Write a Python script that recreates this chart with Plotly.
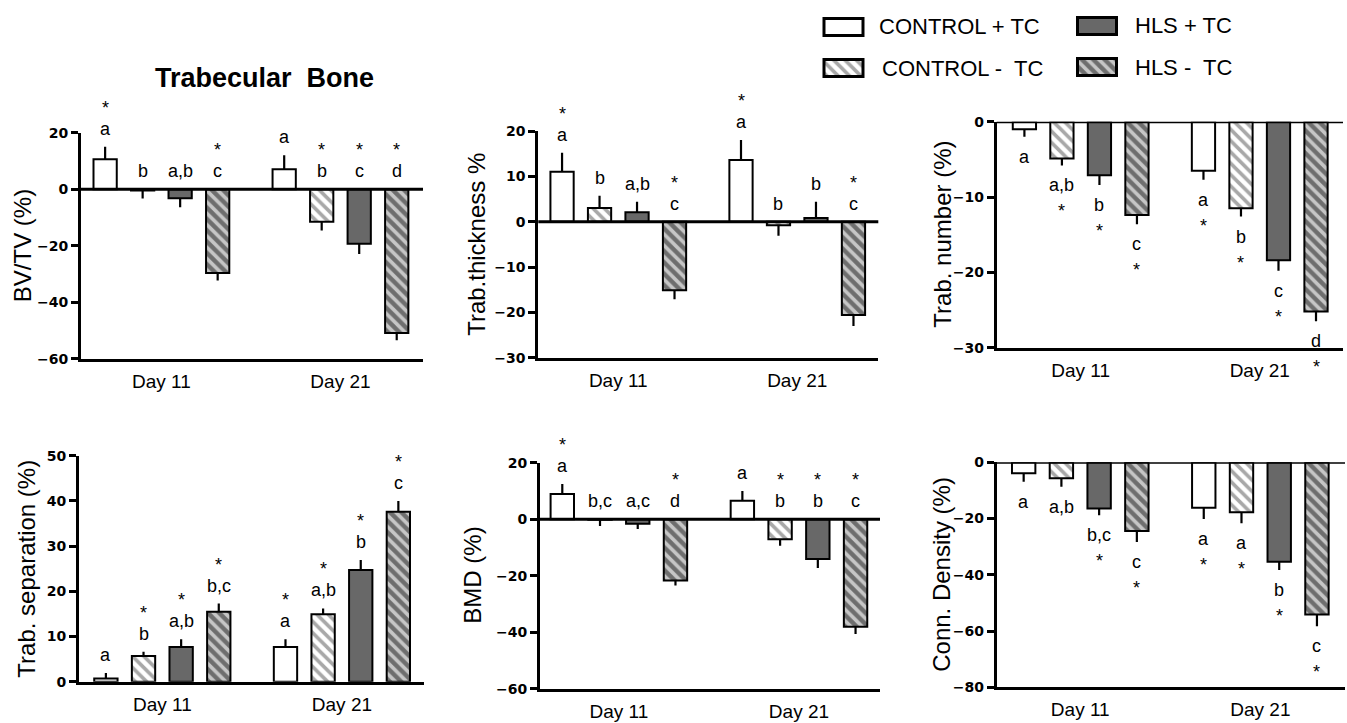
import plotly.graph_objects as go

W, H = 1347, 723

series_names = ["CONTROL + TC", "CONTROL -\u00a0 TC", "HLS + TC", "HLS -\u00a0 TC"]
day_labels = ["Day 11", "Day 21"]

# ---- BV/TV (%) ----
bvtv_day11 = [10.6, -0.5, -3.2, -29.7]
bvtv_err11 = [4.4, 2.8, 3.2, 2.6]
bvtv_day21 = [7.1, -11.5, -19.3, -50.9]
bvtv_err21 = [4.9, 3.1, 3.6, 2.6]
bvtv_let11 = ["a", "b", "a,b", "c"]
bvtv_star11 = [1, 0, 0, 1]
bvtv_let21 = ["a", "b", "c", "d"]
bvtv_star21 = [0, 1, 1, 1]

# ---- Trab. thickness % ----
tbth_day11 = [11.0, 3.0, 2.1, -15.1]
tbth_err11 = [4.2, 2.7, 2.3, 2.0]
tbth_day21 = [13.6, -0.8, 0.8, -20.6]
tbth_err21 = [4.4, 2.3, 3.6, 2.4]
tbth_let11 = ["a", "b", "a,b", "c"]
tbth_star11 = [1, 0, 0, 1]
tbth_let21 = ["a", "b", "b", "c"]
tbth_star21 = [1, 0, 0, 1]

# ---- Trab. number (%) ----
tbn_day11 = [-1.0, -4.9, -7.1, -12.4]
tbn_err11 = [1.0, 0.9, 1.3, 1.2]
tbn_day21 = [-6.5, -11.5, -18.4, -25.2]
tbn_err21 = [1.2, 1.1, 1.4, 1.3]
tbn_let11 = ["a", "a,b", "b", "c"]
tbn_star11 = [0, 1, 1, 1]
tbn_let21 = ["a", "b", "c", "d"]
tbn_star21 = [1, 1, 1, 1]

# ---- Trab. separation (%) ----
tbsp_day11 = [0.7, 5.7, 7.7, 15.5]
tbsp_err11 = [1.2, 0.9, 1.7, 1.8]
tbsp_day21 = [7.7, 14.9, 24.7, 37.6]
tbsp_err21 = [1.7, 1.3, 2.2, 2.4]
tbsp_let11 = ["a", "b", "a,b", "b,c"]
tbsp_star11 = [0, 1, 1, 1]
tbsp_let21 = ["a", "a,b", "b", "c"]
tbsp_star21 = [1, 1, 1, 1]

# ---- BMD (%) ----
bmd_day11 = [8.9, -0.2, -1.6, -21.7]
bmd_err11 = [3.6, 2.2, 1.9, 1.8]
bmd_day21 = [6.5, -7.1, -14.1, -38.1]
bmd_err21 = [3.5, 2.3, 3.2, 2.5]
bmd_let11 = ["a", "b,c", "a,c", "d"]
bmd_star11 = [1, 0, 0, 1]
bmd_let21 = ["a", "b", "b", "c"]
bmd_star21 = [0, 1, 1, 1]

# ---- Conn. Density (%) ----
conn_day11 = [-3.9, -5.7, -16.4, -24.4]
conn_err11 = [3.0, 3.0, 2.4, 3.9]
conn_day21 = [-16.2, -17.8, -35.4, -54.1]
conn_err21 = [4.0, 3.9, 2.9, 4.2]
conn_let11 = ["a", "a,b", "b,c", "c"]
conn_star11 = [0, 0, 1, 1]
conn_let21 = ["a", "a", "b", "c"]
conn_star21 = [1, 1, 1, 1]

panels = [
    dict(title="BV/TV (%)", d11=bvtv_day11, e11=bvtv_err11, d21=bvtv_day21, e21=bvtv_err21,
         l11=bvtv_let11, s11=bvtv_star11, l21=bvtv_let21, s21=bvtv_star21,
         side="above", yr=[-60, 20], dt=20, px=[81, 423], py=[132.7, 358.7],
         xr=[-0.449, 1.461], tx=22.5),
    dict(title="Trab.thickness %", d11=tbth_day11, e11=tbth_err11, d21=tbth_day21, e21=tbth_err21,
         l11=tbth_let11, s11=tbth_star11, l21=tbth_let21, s21=tbth_star21,
         side="above", yr=[-30, 20], dt=10, px=[538.3, 878.3], py=[131, 357.7],
         xr=[-0.447, 1.453], tx=476.5),
    dict(title="Trab. number (%)", d11=tbn_day11, e11=tbn_err11, d21=tbn_day21, e21=tbn_err21,
         l11=tbn_let11, s11=tbn_star11, l21=tbn_let21, s21=tbn_star21,
         side="below", yr=[-30, 0], dt=10, px=[996.7, 1343], py=[121.7, 347.7],
         xr=[-0.469, 1.465], tx=943),
    dict(title="Trab. separation (%)", d11=tbsp_day11, e11=tbsp_err11, d21=tbsp_day21, e21=tbsp_err21,
         l11=tbsp_let11, s11=tbsp_star11, l21=tbsp_let21, s21=tbsp_star21,
         side="above", yr=[0, 50], dt=10, px=[79, 424], py=[455.7, 681.7],
         xr=[-0.464, 1.457], tx=27),
    dict(title="BMD (%)", d11=bmd_day11, e11=bmd_err11, d21=bmd_day21, e21=bmd_err21,
         l11=bmd_let11, s11=bmd_star11, l21=bmd_let21, s21=bmd_star21,
         side="above", yr=[-60, 20], dt=20, px=[540, 880], py=[462.7, 688.7],
         xr=[-0.438, 1.45], tx=473),
    dict(title="Conn. Density (%)", d11=conn_day11, e11=conn_err11, d21=conn_day21, e21=conn_err21,
         l11=conn_let11, s11=conn_star11, l21=conn_let21, s21=conn_star21,
         side="below", yr=[-80, 0], dt=20, px=[996.7, 1345], py=[462.3, 687.3],
         xr=[-0.464, 1.47], tx=942),
]

FONT = "Liberation Sans, Arial, Helvetica, sans-serif"
BARGAP = 0.162
BARGROUPGAP = 0.38
SLOT = (1 - BARGAP) / 4

base_colors = ["white", "white", "#686868", "#6e6e6e"]
patterns = [
    dict(shape=""),
    dict(shape="\\", bgcolor="white", fgcolor="#a8a8a8", size=8, solidity=0.45, fillmode="replace"),
    dict(shape=""),
    dict(shape="\\", bgcolor="#6e6e6e", fgcolor="#c6c6c6", size=8, solidity=0.45, fillmode="replace"),
]


def fx(p):
    return p / W


def fy(p):
    return 1 - p / H


fig = go.Figure()
annotations = []
shapes = []
layout = {}

for k, p in enumerate(panels):
    n = k + 1
    xa = "x" if n == 1 else f"x{n}"
    ya = "y" if n == 1 else f"y{n}"
    xkey = "xaxis" if n == 1 else f"xaxis{n}"
    ykey = "yaxis" if n == 1 else f"yaxis{n}"
    for i in range(4):
        vals = [p["d11"][i], p["d21"][i]]
        errs = [p["e11"][i], p["e21"][i]]
        plus = [e if v >= 0 else 0 for v, e in zip(vals, errs)]
        minus = [e if v < 0 else 0 for v, e in zip(vals, errs)]
        fig.add_trace(go.Bar(
            x=[0, 1], y=vals, name=series_names[i], showlegend=False,
            xaxis=xa, yaxis=ya,
            marker=dict(color=base_colors[i], line=dict(color="black", width=2),
                        pattern=patterns[i]),
            error_y=dict(type="data", symmetric=False, array=plus, arrayminus=minus,
                         color="black", thickness=2.2, width=0),
            hoverinfo="skip",
        ))
        # significance letters and stars
        for g, (v, e) in enumerate(zip(vals, errs)):
            let = p["l11"][i] if g == 0 else p["l21"][i]
            star = p["s11"][i] if g == 0 else p["s21"][i]
            xc = g + (i - 1.5) * SLOT
            if p["side"] == "above":
                anchor = v + e if v > 0 else 0
                ls, ss = 18, 39
            else:
                anchor = v - e if v < 0 else 0
                ls, ss = -20, -46
            annotations.append(dict(x=xc, y=anchor, xref=xa, yref=ya, text=let,
                                    showarrow=False, yanchor="middle", yshift=ls,
                                    font=dict(family=FONT, size=18, color="black")))
            if star:
                annotations.append(dict(x=xc, y=anchor, xref=xa, yref=ya, text="*",
                                        showarrow=False, yanchor="middle", yshift=ss,
                                        font=dict(family=FONT, size=18, color="black")))
    layout[xkey] = dict(domain=[fx(p["px"][0]), fx(p["px"][1])], range=p["xr"],
                        anchor=ya, showline=True, linewidth=3, linecolor="black",
                        tickvals=[0, 1], ticktext=day_labels, ticks="",
                        ticklabelstandoff=3, automargin=False,
                        tickfont=dict(family=FONT, size=19, color="black"),
                        showgrid=False, zeroline=False, fixedrange=True)
    layout[ykey] = dict(domain=[fy(p["py"][1]), fy(p["py"][0])], range=p["yr"],
                        anchor=xa, dtick=p["dt"], showline=True, linewidth=3,
                        linecolor="black", ticks="outside", ticklen=7, tickwidth=3,
                        tickcolor="black", automargin=False,
                        tickfont=dict(family="DejaVu Sans, sans-serif", size=14,
                                      color="black", weight="bold"),
                        showgrid=False, zeroline=False, fixedrange=True)
    # zero reference line
    if p["yr"][0] < 0:
        shapes.append(dict(type="line", xref=f"{xa} domain", yref=ya, x0=0, x1=1,
                           y0=0, y1=0, line=dict(color="black", width=3)))
    # axis title
    annotations.append(dict(x=fx(p["tx"]), y=fy((p["py"][0] + p["py"][1]) / 2),
                            xref="paper", yref="paper", text=p["title"], textangle=-90,
                            showarrow=False, xanchor="center", yanchor="middle",
                            font=dict(family=FONT, size=24, color="black")))

# ---- legend (swatches drawn as single bars on small hidden axes) ----
leg_box_x = [843.5, 843.5, 1097, 1097]
leg_box_y = [27, 68, 26, 67]
leg_text_x = [877, 880, 1133, 1133]
BW, BH = 39, 17
for i in range(4):
    n = 7 + i
    xa, ya = f"x{n}", f"y{n}"
    cx, cy = leg_box_x[i], leg_box_y[i]
    hw, hh = BW / 2 * 1.2, BH / 2 * 1.2
    layout[f"xaxis{n}"] = dict(domain=[fx(cx - hw), fx(cx + hw)], range=[-0.6, 0.6],
                               visible=False, anchor=ya, fixedrange=True, automargin=False)
    layout[f"yaxis{n}"] = dict(domain=[fy(cy + hh), fy(cy - hh)], range=[-0.1, 1.1],
                               visible=False, anchor=xa, fixedrange=True, automargin=False)
    fig.add_trace(go.Bar(x=[0], y=[1], width=[1], xaxis=xa, yaxis=ya, showlegend=False,
                         name=series_names[i], hoverinfo="skip",
                         marker=dict(color=base_colors[i],
                                     line=dict(color="black", width=3),
                                     pattern=patterns[i])))
    annotations.append(dict(x=fx(leg_text_x[i]), y=fy(cy), xref="paper", yref="paper",
                            text=series_names[i], showarrow=False, xanchor="left",
                            yanchor="middle",
                            font=dict(family=FONT, size=22, color="black")))

# ---- title ----
annotations.append(dict(x=fx(264), y=fy(78), xref="paper", yref="paper",
                        text="<b>Trabecular\u00a0 Bone</b>", showarrow=False,
                        xanchor="center", yanchor="middle",
                        font=dict(family=FONT, size=27, color="black")))

fig.update_layout(
    width=W, height=H,
    margin=dict(l=0, r=0, t=0, b=0, autoexpand=False),
    paper_bgcolor="white", plot_bgcolor="white",
    barmode="group", bargap=BARGAP, bargroupgap=BARGROUPGAP,
    annotations=annotations, shapes=shapes,
    showlegend=False,
    **layout,
)

fig.write_html(
    "out.html",
    config={"displayModeBar": False, "staticPlot": True},
    post_script=(
        "document.documentElement.style.margin='0';"
        "document.documentElement.style.overflow='hidden';"
        "document.body.style.margin='0';document.body.style.padding='0';"
        "document.body.style.overflow='hidden';"
        "var gd=document.getElementById('{plot_id}');"
        "gd.style.position='fixed';gd.style.top='0px';gd.style.left='0px';"
    ),
)
